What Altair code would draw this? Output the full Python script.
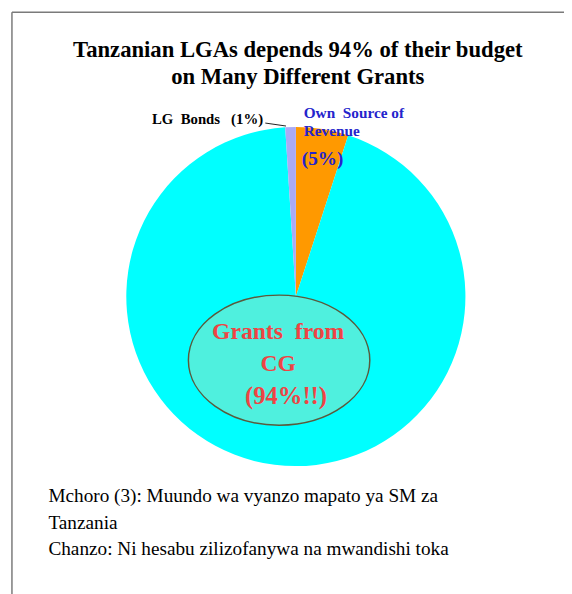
import altair as alt
import pandas as pd

# ---- data ----
categories = ["Own Source of Revenue", "Grants from CG", "LG Bonds"]
shares = [5, 94, 1]
slice_order = [1, 2, 3]
slice_colors = ["#FF9900", "#00FFFF", "#AAAAF5"]

NB = "\u00a0"
title_lines = ["Tanzanian LGAs depends 94% of their budget", "on Many Different Grants"]
lg_label = f"LG{NB} Bonds{NB}{NB} (1%)"
own_label = [f"Own{NB} Source of", "Revenue"]
own_pct = "(5%)"
grants_label = [f"Grants{NB} from", "CG"]
grants_pct = "(94%!!)"
caption_lines = ["Mchoro (3): Muundo wa vyanzo mapato ya SM za", "Tanzania",
                 "Chanzo: Ni hesabu zilizofanywa na mwandishi toka"]

df = pd.DataFrame({"category": categories, "share": shares, "ord": slice_order})
one = alt.Data(values=[{"k": 1}])
SERIF = "Liberation Serif"

pie = alt.Chart(df).mark_arc(radius=172).encode(
    theta=alt.Theta("share:Q", stack=True, scale=alt.Scale(domain=[0, 100])),
    color=alt.Color("category:N", scale=alt.Scale(domain=categories, range=slice_colors), legend=None),
    order=alt.Order("ord:Q"),
    x=alt.value(292), y=alt.value(288.5),
)

ellipse_path = "M -1 0 A 1 0.717 0 1 0 1 0 A 1 0.717 0 1 0 -1 0 Z"
ellipse = alt.Chart(one).mark_point(
    shape=ellipse_path, size=184 * 184, filled=True, fill="#4FF0DE", fillOpacity=1,
    stroke="#5A5A3C", strokeWidth=1.5, opacity=1,
).encode(x=alt.value(275), y=alt.value(353))

frame_left = alt.Chart(one).mark_rule(color="#7A7A7A", strokeWidth=1.5).encode(
    x=alt.value(4), y=alt.value(0), y2=alt.value(600))
frame_top = alt.Chart(one).mark_rule(color="#7A7A7A", strokeWidth=1.5).encode(
    x=alt.value(4), x2=alt.value(600), y=alt.value(0))

leader = alt.Chart(one).mark_rule(color="#222222", strokeWidth=1).encode(
    x=alt.value(261), y=alt.value(112.5), x2=alt.value(282), y2=alt.value(115.5))


def txt(text, x, y, size, color="black", weight="bold", align="left", lh=None, font=SERIF):
    kw = dict(font=font, fontSize=size, fontWeight=weight, color=color, align=align,
              baseline="alphabetic")
    if lh is not None:
        kw["lineHeight"] = lh
    return alt.Chart(one).mark_text(**kw).encode(
        x=alt.value(x), y=alt.value(y), text=alt.value(text))


title = txt(title_lines, 294, 45, 23, align="center", lh=28)
lg = txt(lg_label, 146, 113.5, 15)
own = txt(own_label, 300, 107, 15.5, color="#2424CC", lh=19)
own_p = txt(own_pct, 298, 155, 19.5, color="#2424CC")
grants = txt(grants_label, 274, 332, 24, color="#EE4444", align="center", lh=32)
grants_p = txt(grants_pct, 282, 397, 25, color="#EE4444", align="center")
caption = txt(caption_lines, 41, 497, 19.5, weight="normal", lh=27)

chart = alt.layer(
    frame_left, frame_top, pie, ellipse, leader, title, lg, own, own_p, grants, grants_p, caption
).properties(
    width=564, height=586, autosize=alt.AutoSizeParams(type="none"), padding=0
).configure_view(stroke=None)

chart.save("out.html", embed_options={"renderer": "svg", "actions": False})
